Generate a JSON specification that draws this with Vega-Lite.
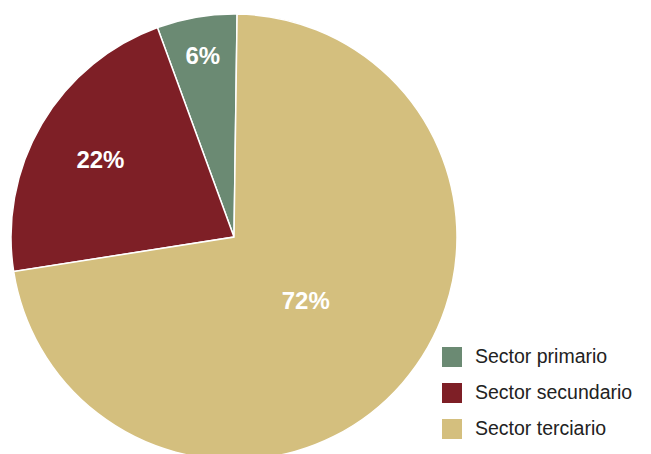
{
  "$schema": "https://vega.github.io/schema/vega-lite/v6.json",
  "width": 468,
  "height": 474,
  "padding": 0,
  "autosize": {"type": "pad"},
  "background": "white",
  "config": {"view": {"stroke": null}, "font": "Liberation Sans"},
  "data": {
    "values": [
      {"sector": "Sector primario", "value": 5.8, "label": "6%"},
      {"sector": "Sector secundario", "value": 21.9, "label": "22%"},
      {"sector": "Sector terciario", "value": 72.3, "label": "72%"}
    ]
  },
  "encoding": {
    "theta": {"field": "value", "type": "quantitative", "stack": true, "scale": {"range": [0.014, 6.297]}},
    "order": {"field": "value", "sort": "descending"}
  },
  "layer": [
    {
      "mark": {"type": "arc", "outerRadius": 223, "stroke": "white", "strokeWidth": 1.5},
      "encoding": {
        "color": {
          "field": "sector",
          "type": "nominal",
          "scale": {
            "domain": ["Sector primario", "Sector secundario", "Sector terciario"],
            "range": ["#6B8A73", "#7E1F26", "#D4BF7E"]
          },
          "legend": {
            "title": null,
            "orient": "none",
            "legendX": 442,
            "legendY": 347,
            "padding": 0,
            "symbolType": "square",
            "symbolSize": 400,
            "symbolStrokeWidth": 0,
            "symbolOpacity": 1,
            "labelFontSize": 19.5,
            "labelColor": "#222222",
            "labelFont": "Liberation Sans",
            "labelOffset": 13,
            "rowPadding": 16,
            "labelLimit": 300
          }
        }
      }
    },
    {
      "mark": {"type": "text", "fontSize": 24, "fontWeight": "bold", "fill": "white", "font": "Liberation Sans", "dy": 3},
      "encoding": {
        "radius": {
          "field": "value",
          "type": "quantitative",
          "scale": {"type": "linear", "domain": [5.8, 21.9, 72.3], "range": [186, 155, 95], "zero": false}
        },
        "text": {"field": "label"}
      }
    }
  ]
}
